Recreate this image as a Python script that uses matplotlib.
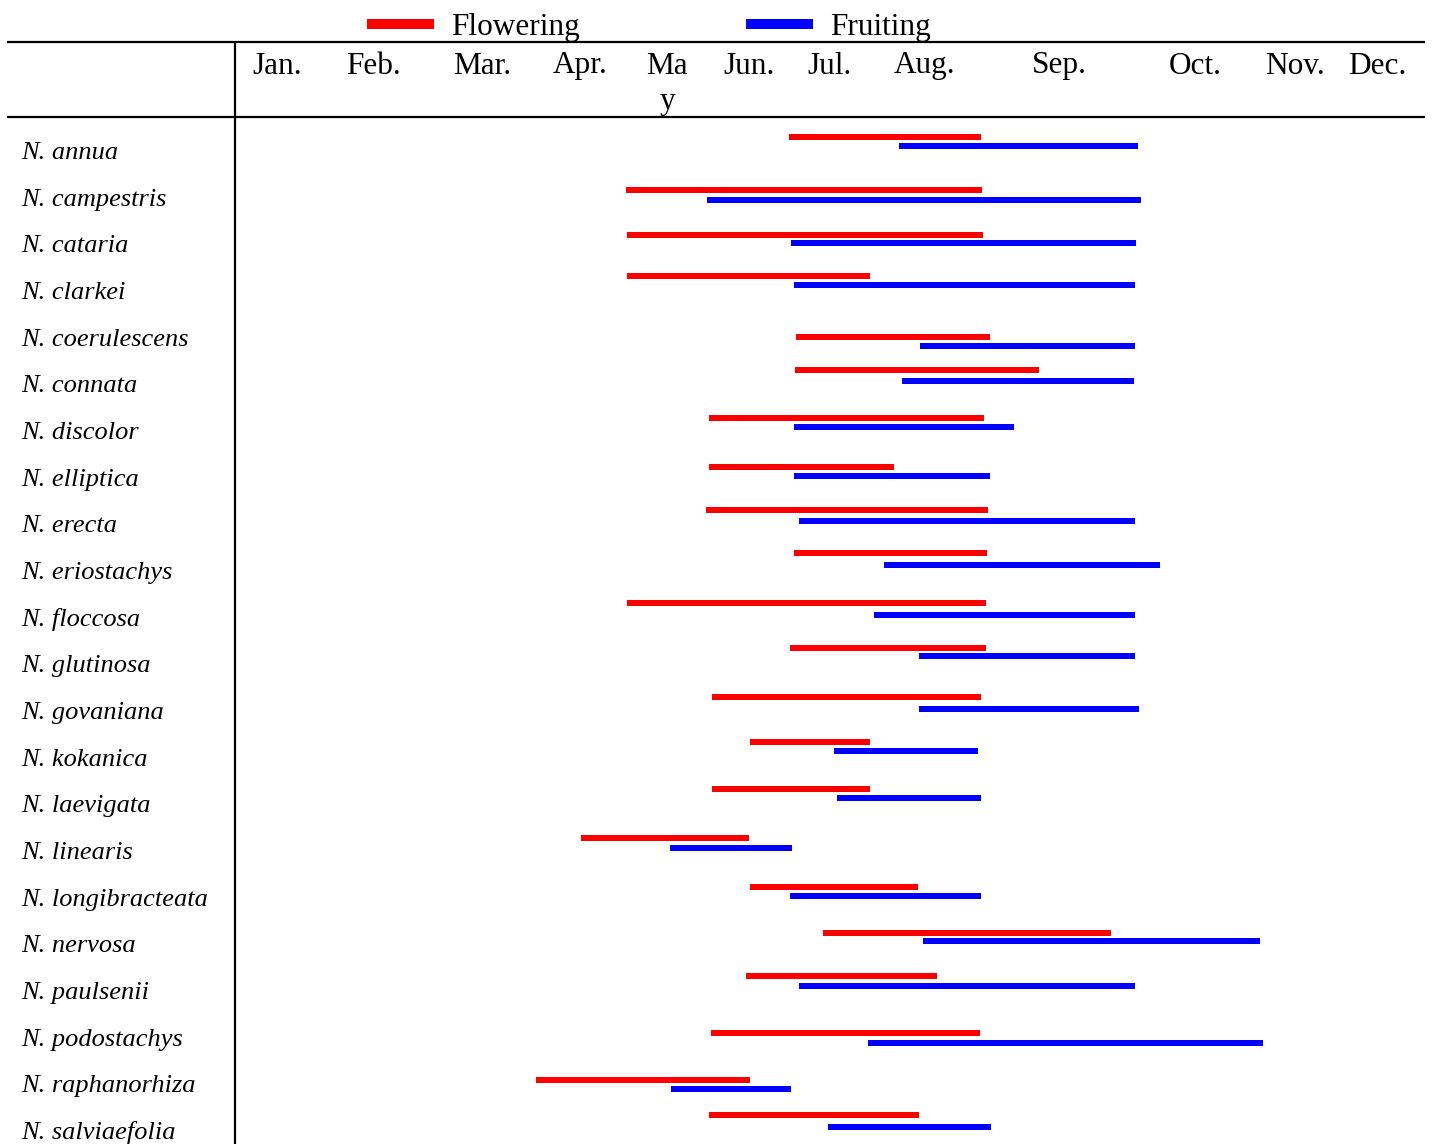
import matplotlib.pyplot as plt
from matplotlib.lines import Line2D

# Species (rows, top to bottom)
species = [
    "N. annua", "N. campestris", "N. cataria", "N. clarkei", "N. coerulescens",
    "N. connata", "N. discolor", "N. elliptica", "N. erecta", "N. eriostachys",
    "N. floccosa", "N. glutinosa", "N. govaniana", "N. kokanica", "N. laevigata",
    "N. linearis", "N. longibracteata", "N. nervosa", "N. paulsenii",
    "N. podostachys", "N. raphanorhiza", "N. salviaefolia",
]

# Month header labels and their positions along the timeline
months = ["Jan.", "Feb.", "Mar.", "Apr.", "Ma\ny", "Jun.", "Jul.", "Aug.",
          "Sep.", "Oct.", "Nov.", "Dec."]
month_pos = [277, 373, 482, 580, 667, 749, 830, 925, 1059, 1195, 1295, 1377]

# Flowering period (start / end on the timeline)
flower_start = [789, 626, 627, 627, 796, 795, 709, 709, 706, 794, 627, 790,
                712, 750, 712, 581, 750, 823, 746, 711, 536, 709]
flower_end = [981, 982, 983, 870, 990, 1039, 984, 894, 988, 987, 986, 986,
              981, 870, 870, 749, 918, 1111, 937, 980, 750, 919]
# Fruiting period
fruit_start = [899, 707, 791, 794, 920, 902, 794, 794, 799, 884, 874, 919,
               919, 834, 837, 670, 790, 923, 799, 868, 671, 828]
fruit_end = [1138, 1141, 1136, 1135, 1135, 1134, 1014, 990, 1135, 1160, 1135,
             1135, 1139, 978, 981, 792, 981, 1260, 1135, 1263, 791, 991]

# Row position of each bar (as drawn in the original table)
flower_row = [-0.27, 0.85, 1.82, 2.69, 4.01, 4.72, 5.75, 6.79, 7.71, 8.64,
              9.71, 10.67, 11.72, 12.69, 13.69, 14.75, 15.79, 16.77, 17.70,
              18.91, 19.93, 20.67]
fruit_row = [-0.08, 1.07, 2.00, 2.90, 4.21, 4.94, 5.93, 6.98, 7.95, 8.89,
             9.97, 10.84, 11.97, 12.88, 13.88, 14.95, 15.98, 16.94, 17.91,
             19.14, 20.13, 20.93]

W, H = 1433, 1144
ROW0_PX = 150.0
ROW_PX = 46.67


def px(y):
    """Convert a layout pixel height to row units."""
    return (y - ROW0_PX) / ROW_PX


plt.rcParams["font.family"] = ["Liberation Serif", "DejaVu Serif"]

fig = plt.figure(figsize=(W / 100, H / 100), dpi=100)
ax = fig.add_axes([0, 0, 1, 1])
ax.set_xlim(0, W)
ax.set_ylim(px(H), px(0))
ax.axis("off")

bar_h = 6 / ROW_PX
ax.barh(flower_row, [e - s for s, e in zip(flower_start, flower_end)],
        left=flower_start, height=bar_h, color="#ff0000", label="Flowering")
ax.barh(fruit_row, [e - s for s, e in zip(fruit_start, fruit_end)],
        left=fruit_start, height=bar_h, color="#0000ff", label="Fruiting")

# Table rules
ax.plot([7, 1425], [px(42), px(42)], color="black", lw=1.6,
        solid_capstyle="butt")
ax.plot([7, 1425], [px(117), px(117)], color="black", lw=1.6,
        solid_capstyle="butt")
ax.plot([235, 235], [px(42), px(H)], color="black", lw=1.6,
        solid_capstyle="butt")

# Header months (a wrapped label goes on to a second line below)
for label, x in zip(months, month_pos):
    for k, part in enumerate(label.split("\n")):
        ax.text(x, px(73.5 + 35.5 * k), part, ha="center", va="baseline",
                fontsize=22.5)

# Species names
for i, name in enumerate(species):
    ax.text(21, i + 0.19, name, ha="left", va="baseline", fontsize=19,
            style="italic")

# Legend
handles = [Line2D([], [], color="#ff0000", lw=7.2, solid_capstyle="butt"),
           Line2D([], [], color="#0000ff", lw=7.2, solid_capstyle="butt")]
fig.legend(handles, ["Flowering", "Fruiting"], loc="center",
           bbox_to_anchor=(649 / W, 1 - 27 / H), ncol=2, frameon=False,
           fontsize=22.5, handlelength=2.15, handletextpad=0.55,
           columnspacing=5.3, borderpad=0, borderaxespad=0)

fig.savefig("out.png", dpi=100)
